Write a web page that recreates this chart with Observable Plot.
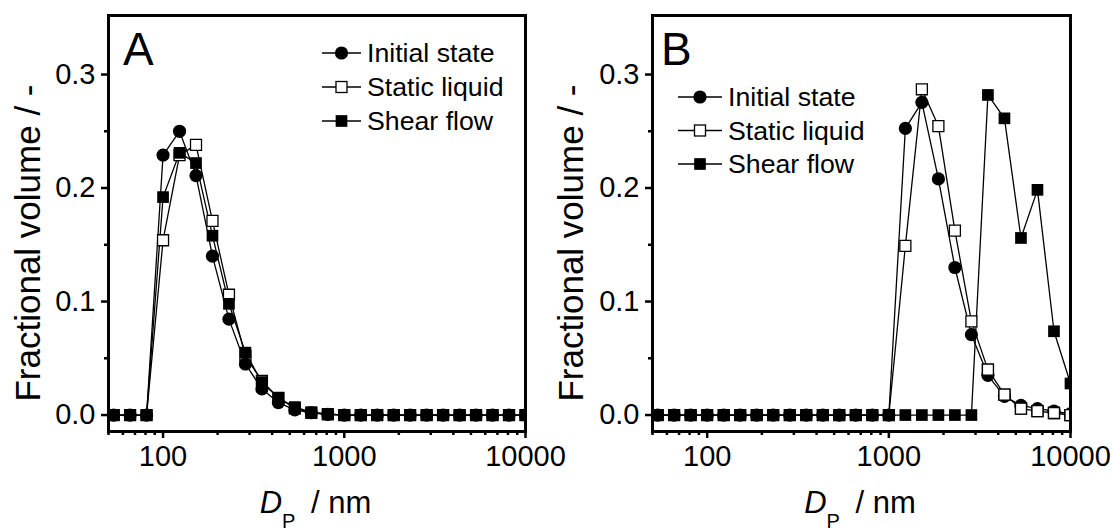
<!DOCTYPE html>
<html><head><meta charset="utf-8">
<script src="https://cdn.jsdelivr.net/npm/d3@7"></script>
<script src="https://cdn.jsdelivr.net/npm/@observablehq/plot@0.6"></script>
<style>
body{margin:0;background:#fff;}
#wrap{display:flex;width:1112px;height:532px;overflow:hidden;background:#fff;}
svg text{font-family:"Liberation Sans",Arial,sans-serif;}
</style></head><body><div id="wrap"></div>
<script>
// Particle diameter bins (nm)
const dp = [53.4, 65.8, 81.1, 100, 123.3, 152.0, 187.4, 231.0, 284.8, 351.1, 432.9, 533.7, 657.9, 811.1, 1000, 1233, 1520, 1874, 2310, 2848, 3511, 4329, 5337, 6579, 8111, 10000];
const seriesNames = ["Initial state", "Static liquid", "Shear flow"];

// Panel A
const aInitial = [0, 0, 0, 0.229, 0.250, 0.211, 0.140, 0.0845, 0.045, 0.023, 0.011, 0.0045, 0.002, 0.0006, 0, 0, 0, 0, 0, 0, 0, 0, 0, 0, 0, 0];
const aStatic  = [0, 0, 0, 0.154, 0.229, 0.238, 0.171, 0.106, 0.052, 0.030, 0.015, 0.006, 0.002, 0.0005, 0, 0, 0, 0, 0, 0, 0, 0, 0, 0, 0, 0];
const aShear   = [0, 0, 0, 0.192, 0.231, 0.222, 0.158, 0.098, 0.055, 0.029, 0.015, 0.007, 0.0025, 0.001, 0, 0, 0, 0, 0, 0, 0, 0, 0, 0, 0, 0];

// Panel B
const bInitial = [0, 0, 0, 0, 0, 0, 0, 0, 0, 0, 0, 0, 0, 0, 0, 0.2525, 0.2755, 0.208, 0.130, 0.0708, 0.035, 0.0165, 0.0085, 0.0056, 0.0035, 0.001];
const bStatic  = [0, 0, 0, 0, 0, 0, 0, 0, 0, 0, 0, 0, 0, 0, 0, 0.149, 0.287, 0.2546, 0.1625, 0.0825, 0.040, 0.018, 0.0056, 0.0035, 0.0018, 0];
const bShear   = [0, 0, 0, 0, 0, 0, 0, 0, 0, 0, 0, 0, 0, 0, 0, 0, 0, 0, 0, 0, 0.282, 0.2614, 0.156, 0.1984, 0.0738, 0.0278];

// Axes
const xTicks = [100, 1000, 10000];
const xTickLabels = ["100", "1000", "10000"];
const xMinorTicks = [50, 60, 70, 80, 90, 200, 300, 400, 500, 600, 700, 800, 900, 2000, 3000, 4000, 5000, 6000, 7000, 8000, 9000];
const yTicks = [0, 0.1, 0.2, 0.3];
const yTickLabels = ["0.0", "0.1", "0.2", "0.3"];
const yMinorTicks = [0.05, 0.15, 0.25];
const panelLetters = ["A", "B"];
const yLabel = "Fractional volume / -";
const xLabelMain = "D";
const xLabelSub = "P";
const xLabelUnit = " / nm";

const xLabelMap = new Map(xTicks.map((t, i) => [t, xTickLabels[i]]));
const yLabelMap = new Map(yTicks.map((t, i) => [t, yTickLabels[i]]));

function rows(vals) { return dp.map((x, i) => ({x, y: vals[i]})); }

const styles = {
  circle: {symbol: "circle", r: 6.6, fill: "black", stroke: "none"},
  open:   {symbol: "square", r: 6.2, fill: "white", stroke: "black", strokeWidth: 1.3},
  filled: {symbol: "square", r: 6.6, fill: "black", stroke: "none"}
};

function panel(cfg) {
  const W = 556, H = 532;
  const series = {circle: cfg.init, open: cfg.stat, filled: cfg.shear};
  const marks = [];
  for (const k of ["open", "filled", "circle"]) {
    marks.push(Plot.line(rows(series[k]), {x: "x", y: "y", stroke: "black", strokeWidth: 1.3, clip: true}));
  }
  for (const k of cfg.dotOrder) {
    marks.push(Plot.dot(rows(series[k]), {x: "x", y: "y", ...styles[k], clip: true}));
  }
  if (cfg.topFilter) {
    marks.push(Plot.dot(rows(series[cfg.topFilter.key]), {x: "x", y: "y", ...styles[cfg.topFilter.key], clip: true, filter: cfg.topFilter.fn}));
  }
  marks.push(
    Plot.axisX(xMinorTicks, {tickSize: 4, strokeWidth: 2.5, tickFormat: () => "", label: null}),
    Plot.axisX(xTicks, {tickSize: 7, tickPadding: 7, strokeWidth: 2.5, fontSize: 29, tickFormat: d => xLabelMap.get(d), label: null}),
    Plot.axisY(yMinorTicks, {tickSize: 4, strokeWidth: 2.5, tickFormat: () => "", label: null}),
    Plot.axisY(yTicks, {tickSize: 7, tickPadding: 6, strokeWidth: 2.5, fontSize: 29, tickFormat: d => yLabelMap.get(d), label: null}),
    Plot.frame({stroke: "black", strokeWidth: 3})
  );
  const svg = Plot.plot({
    width: W, height: H,
    marginLeft: cfg.ml, marginRight: cfg.mr, marginTop: 15, marginBottom: 101,
    x: {type: "log", domain: [50, 10000], label: null},
    y: {domain: [-0.0145, 0.352], label: null},
    style: {background: "transparent", color: "black", fontFamily: "Liberation Sans, Arial, sans-serif", fontSize: "29px", overflow: "visible"},
    marks
  });
  const s = d3.select(svg);
  const cx = (cfg.ml + (W - cfg.mr)) / 2;
  // panel letter
  s.append("text").attr("x", cfg.letterX).attr("y", 65).attr("text-anchor", "start").attr("font-size", 46).attr("fill", "black").text(cfg.letter);
  // y label
  s.append("text").attr("transform", `translate(${cfg.ylx},243) rotate(-90)`).attr("text-anchor", "middle")
    .attr("font-size", 35).attr("fill", "black").text(yLabel);
  // x label
  const xl = s.append("text").attr("x", cx - 1).attr("y", 513).attr("text-anchor", "middle").attr("font-size", 31).attr("fill", "black");
  xl.append("tspan").attr("font-style", "italic").text(xLabelMain);
  xl.append("tspan").attr("font-size", 20).attr("dy", 15).text(xLabelSub);
  xl.append("tspan").attr("dy", -15).attr("dx", 7).text(xLabelUnit);
  // legend
  const lg = s.append("g");
  const keys = ["circle", "open", "filled"];
  keys.forEach((k, i) => {
    const y = cfg.legRows[i];
    lg.append("line").attr("x1", cfg.legX1).attr("x2", cfg.legX2).attr("y1", y).attr("y2", y).attr("stroke", "black").attr("stroke-width", 1.3);
    const mx = (cfg.legX1 + cfg.legX2) / 2;
    const st = styles[k];
    if (k === "circle") {
      lg.append("circle").attr("cx", mx).attr("cy", y).attr("r", st.r).attr("fill", "black");
    } else {
      const side = st.r * Math.sqrt(Math.PI);
      lg.append("rect").attr("x", mx - side / 2).attr("y", y - side / 2).attr("width", side).attr("height", side)
        .attr("fill", st.fill).attr("stroke", st.stroke === "none" ? null : st.stroke).attr("stroke-width", st.strokeWidth || null);
    }
    lg.append("text").attr("x", cfg.legX2 + 6).attr("y", y).attr("dy", "0.35em").attr("text-anchor", "start")
      .attr("font-size", 26.7).attr("fill", "black").text(seriesNames[i]);
  });
  return svg;
}

const wrap = document.getElementById("wrap");
const svgA = panel({
  init: aInitial, stat: aStatic, shear: aShear,
  dotOrder: ["open", "filled", "circle"],
  ml: 108, mr: 31, letter: panelLetters[0], letterX: 123, ylx: 40,
  legX1: 322, legX2: 361, legRows: [53, 87, 121]
});
const svgB = panel({
  init: bInitial, stat: bStatic, shear: bShear,
  dotOrder: ["open", "filled", "circle"],
  topFilter: {key: "open", fn: d => d.x > 3000},
  ml: 96, mr: 42, letter: panelLetters[1], letterX: 105, ylx: 27,
  legX1: 122, legX2: 166, legRows: [97, 130.5, 164]
});
svgA.style.position = "relative"; svgA.style.zIndex = "2";
wrap.appendChild(svgA);
wrap.appendChild(svgB);
</script>
</body></html>
